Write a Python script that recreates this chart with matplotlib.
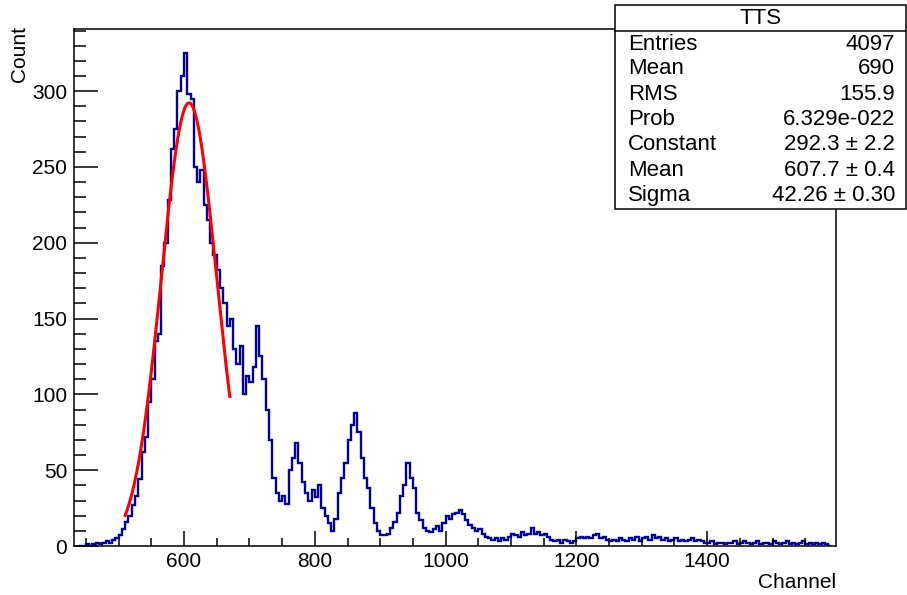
import numpy as np
import matplotlib
matplotlib.use("Agg")
import matplotlib.pyplot as plt
from matplotlib.ticker import MultipleLocator

plt.rcParams['font.family'] = ['Liberation Sans', 'DejaVu Sans']

# Histogram: TTS spectrum, 5-channel bins starting at channel 440
bin_start = 440
bin_width = 5
counts = [
    0, 0, 1, 0, 1, 2, 1, 2, 3, 2, 4, 5,                    # 440-495
    7, 11, 16, 20, 27, 33, 44, 62, 72, 95,                   # 500-545
    110, 135, 140, 185, 200, 228, 262, 275, 300, 310,        # 550-595
    325, 298, 295, 250, 240, 248, 225, 215, 200, 192,        # 600-645
    182, 170, 160, 145, 150, 130, 120, 132, 100, 112,        # 650-695
    108, 118, 145, 125, 110, 90, 70, 45, 35, 30,             # 700-745
    33, 28, 50, 58, 68, 55, 42, 35, 30, 37,                  # 750-795
    32, 40, 25, 20, 15, 10, 18, 35, 45, 55,                  # 800-845
    70, 80, 88, 75, 58, 45, 38, 25, 15, 10,                  # 850-895
    7, 7, 8, 12, 16, 22, 33, 40, 55, 45,                     # 900-945
    38, 22, 17, 12, 10, 9, 11, 13, 10, 15,                   # 950-995
    20, 18, 21, 22, 24, 21, 17, 14, 12, 10,                  # 1000-1045
    11, 8, 6, 5, 4, 5, 3, 5, 4, 6,                           # 1050-1095
    8, 7, 6, 9, 7, 8, 12, 8, 9, 7,                           # 1100-1145
    8, 6, 4, 3, 4, 2, 4, 3, 2, 3,                            # 1150-1195
    5, 6, 5, 6, 5, 7, 8, 5, 6, 4,                            # 1200-1245
    3, 4, 3, 5, 4, 3, 5, 4, 6, 3,                            # 1250-1295
    5, 6, 4, 7, 5, 6, 4, 5, 3, 4,                            # 1300-1345
    5, 3, 4, 3, 4, 5, 3, 4, 3, 2,                            # 1350-1395
    2, 3, 1, 2, 2, 1, 2, 2, 3, 1,                            # 1400-1445
    2, 3, 2, 1, 2, 3, 1, 2, 2, 1,                            # 1450-1495
    3, 2, 1, 2, 3, 1, 2, 1, 2, 3,                            # 1500-1545
    1, 2, 1, 2, 1, 2, 1, 0,                                  # 1550-1585
]
edges = bin_start + bin_width * np.arange(len(counts) + 1)

# Gaussian fit result
fit_constant = 292.3
fit_mean = 607.7
fit_sigma = 42.26
fit_range = (510, 670)

stats_title = "TTS"
stats_labels = ["Entries", "Mean", "RMS", "Prob", "Constant", "Mean", "Sigma"]
stats_values = ["4097", "690", "155.9", "6.329e-022",
                "292.3 \u00b1 2.2", "607.7 \u00b1 0.4", "42.26 \u00b1 0.30"]

W, H = 907, 595
fig = plt.figure(figsize=(W / 100, H / 100), dpi=100)
ax = fig.add_axes([73.5 / W, 1 - 546 / H, (836 - 73.5) / W, (546 - 29) / H])

ax.stairs(counts, edges, color="#000099", linewidth=1.7, baseline=0)

xf = np.linspace(fit_range[0], fit_range[1], 300)
yf = fit_constant * np.exp(-0.5 * ((xf - fit_mean) / fit_sigma) ** 2)
ax.plot(xf, yf, color="#ff0000", linewidth=2.2)

ax.set_xlim(431, 1597)
ax.set_ylim(0, 341)

ax.xaxis.set_major_locator(MultipleLocator(200))
ax.xaxis.set_minor_locator(MultipleLocator(50))
ax.yaxis.set_major_locator(MultipleLocator(50))
ax.yaxis.set_minor_locator(MultipleLocator(10))
ax.tick_params(axis="x", which="major", direction="in", length=11, width=1.1,
               labelsize=15, pad=4, top=False)
ax.tick_params(axis="x", which="minor", direction="in", length=5.5, width=1.1, top=False)
ax.tick_params(axis="y", which="major", direction="in", length=17.5, width=1.1,
               labelsize=15, pad=4.5, right=False)
ax.tick_params(axis="y", which="minor", direction="in", length=8.5, width=1.1, right=False)
for s in ax.spines.values():
    s.set_linewidth(1.1)

fig.text(836 / W, 1 - 583 / H, "Channel", ha="right", va="center", fontsize=15)
fig.text(20 / W, 1 - 26 / H, "Count", ha="center", va="top", rotation=90, fontsize=15)

# Statistics box
bx0, by0, bx1, by1 = 615, 5, 906, 209
box = plt.Rectangle((bx0 / W, 1 - by1 / H), (bx1 - bx0) / W, (by1 - by0) / H,
                    transform=fig.transFigure, facecolor="white",
                    edgecolor="black", linewidth=1.1, zorder=5)
fig.add_artist(box)
fig.add_artist(plt.Line2D([bx0 / W, bx1 / W], [1 - 31 / H, 1 - 31 / H],
                          transform=fig.transFigure, color="black",
                          linewidth=1.1, zorder=6))
fig.text((bx0 + bx1) / 2 / W, 1 - 18 / H, stats_title, ha="center", va="center",
         fontsize=16, zorder=7)
row_y = [44, 69, 95, 120, 145, 171, 196]
for lab, val, yy in zip(stats_labels, stats_values, row_y):
    fig.text(628 / W, 1 - yy / H, lab, ha="left", va="center", fontsize=16, zorder=7)
    fig.text(895 / W, 1 - yy / H, val, ha="right", va="center", fontsize=16, zorder=7)

fig.savefig("out.png", dpi=100)
